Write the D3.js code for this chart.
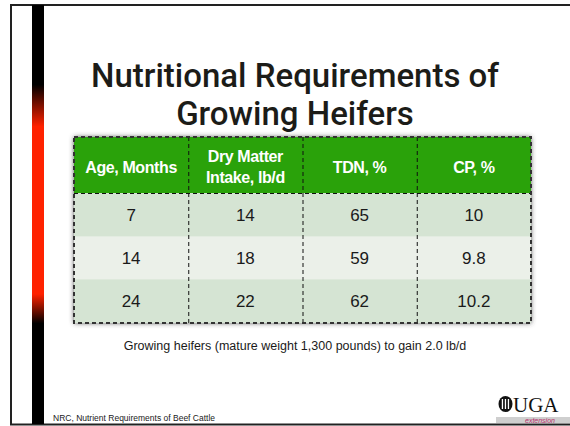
<!DOCTYPE html>
<html>
<head>
<meta charset="utf-8">
<script src="https://cdn.jsdelivr.net/npm/d3@7"></script>
<style>
  html, body { margin: 0; padding: 0; background: #fff; }
  svg { display: block; }
</style>
</head>
<body>
<script>
// table data
const headers = [["Age, Months"], ["Dry Matter", "Intake, lb/d"], ["TDN, %"], ["CP, %"]];
const ages = ["7", "14", "24"];
const dmIntake = ["14", "18", "22"];
const tdn = ["65", "59", "62"];
const cp = ["10", "9.8", "10.2"];
const rowFills = ["#d5e4d3", "#ebf0e9", "#d5e4d3"];

const width = 570, height = 426;
const svg = d3.select("body").append("svg")
  .attr("width", width)
  .attr("height", height);

const defs = svg.append("defs");

// left accent bar gradient (black -> red -> black)
const grad = defs.append("linearGradient")
  .attr("id", "bar-grad")
  .attr("x1", 0).attr("y1", 0).attr("x2", 0).attr("y2", 1);
[[0, "#000"], [0.19, "#000"], [0.29, "#ff2200"], [0.69, "#ff2200"], [0.76, "#000"], [1, "#000"]]
  .forEach(s => grad.append("stop").attr("offset", s[0]).attr("stop-color", s[1]));

// soft grey glow around the table
const glow = defs.append("filter").attr("id", "glow")
  .attr("x", "-5%").attr("y", "-10%").attr("width", "110%").attr("height", "120%");
glow.append("feDropShadow")
  .attr("dx", 0).attr("dy", 0)
  .attr("stdDeviation", 2.5)
  .attr("flood-color", "#444")
  .attr("flood-opacity", 0.95);

// slide frame
svg.append("path")
  .attr("d", "M570,5 H11 V424.5 H570")
  .attr("fill", "none")
  .attr("stroke", "#222")
  .attr("stroke-width", 2);

svg.append("rect")
  .attr("x", 32).attr("y", 5)
  .attr("width", 12).attr("height", 419)
  .attr("fill", "url(#bar-grad)");

// title
const title = svg.append("text")
  .attr("text-anchor", "middle")
  .attr("fill", "#1c1c18")
  .style("font-family", "Roboto, 'Liberation Sans', sans-serif")
  .style("font-weight", 500)
  .style("font-size", "33px");
title.append("tspan").attr("x", 295).attr("y", 87).text("Nutritional Requirements of");
title.append("tspan").attr("x", 295).attr("y", 125).text("Growing Heifers");

// table geometry
const tableLeft = 74, tableRight = 531;
const tableTop = 137, headerBottom = 193, tableBottom = 323;

const x = d3.scaleBand()
  .domain(d3.range(headers.length))
  .range([tableLeft, tableRight]);

const y = d3.scaleBand()
  .domain(d3.range(ages.length))
  .range([headerBottom, tableBottom]);

const rows = ages.map((a, i) => [a, dmIntake[i], tdn[i], cp[i]]);

const table = svg.append("g");

// background with glow
table.append("rect")
  .attr("x", tableLeft).attr("y", tableTop)
  .attr("width", tableRight - tableLeft)
  .attr("height", tableBottom - tableTop)
  .attr("fill", "#d5e4d3")
  .attr("filter", "url(#glow)");

table.append("rect")
  .attr("x", tableLeft).attr("y", tableTop)
  .attr("width", tableRight - tableLeft)
  .attr("height", headerBottom - tableTop)
  .attr("fill", "#2aa20a");

table.selectAll("rect.row")
  .data(rows)
  .join("rect")
  .attr("class", "row")
  .attr("x", tableLeft)
  .attr("y", (d, i) => y(i))
  .attr("width", tableRight - tableLeft)
  .attr("height", y.bandwidth())
  .attr("fill", (d, i) => rowFills[i]);

// header labels
const headerText = table.selectAll("text.head")
  .data(headers)
  .join("text")
  .attr("class", "head")
  .attr("text-anchor", "middle")
  .attr("fill", "#fff")
  .style("font-family", "'Liberation Sans', Arial, sans-serif")
  .style("font-weight", "bold")
  .style("font-size", "16px")
  .style("letter-spacing", "-0.4px");

headerText.each(function(lines, j) {
  const t = d3.select(this);
  const cx = x(j) + x.bandwidth() / 2;
  const base = lines.length === 1 ? 173 : 162;
  lines.forEach((line, k) => {
    t.append("tspan").attr("x", cx).attr("y", base + k * 21).text(line);
  });
});

// body cells
rows.forEach((row, i) => {
  table.selectAll("text.r" + i)
    .data(row)
    .join("text")
    .attr("class", "r" + i)
    .attr("x", (d, j) => x(j) + x.bandwidth() / 2)
    .attr("y", y(i) + y.bandwidth() / 2 + 6)
    .attr("text-anchor", "middle")
    .attr("fill", "#1a1a1a")
    .style("font-family", "'Liberation Sans', Arial, sans-serif")
    .style("font-size", "17px")
    .text(d => d);
});

// dashed grid lines
const dash = "4,3";
table.selectAll("line.v")
  .data(d3.range(1, headers.length))
  .join("line")
  .attr("class", "v")
  .attr("x1", j => x(j) + 0.5).attr("x2", j => x(j) + 0.5)
  .attr("y1", tableTop).attr("y2", tableBottom)
  .attr("stroke", "#111")
  .attr("stroke-dasharray", dash);

table.selectAll("line.h")
  .data([headerBottom])
  .join("line")
  .attr("class", "h")
  .attr("x1", tableLeft).attr("x2", tableRight)
  .attr("y1", d => d + 0.5).attr("y2", d => d + 0.5)
  .attr("stroke", "#111")
  .attr("stroke-dasharray", dash);

table.append("rect")
  .attr("x", tableLeft).attr("y", tableTop)
  .attr("width", tableRight - tableLeft)
  .attr("height", tableBottom - tableTop)
  .attr("fill", "none")
  .attr("stroke", "#333")
  .attr("stroke-width", 2)
  .attr("stroke-dasharray", dash);

// note under table
svg.append("text")
  .attr("x", 295).attr("y", 350)
  .attr("text-anchor", "middle")
  .attr("fill", "#1a1a1a")
  .style("font-family", "'Liberation Sans', Arial, sans-serif")
  .style("font-size", "12.5px")
  .text("Growing heifers (mature weight 1,300 pounds) to gain 2.0 lb/d");

// source footnote
svg.append("text")
  .attr("x", 53).attr("y", 421)
  .attr("fill", "#1a1a1a")
  .style("font-family", "'Liberation Sans', Arial, sans-serif")
  .style("font-size", "8.5px")
  .text("NRC, Nutrient Requirements of Beef Cattle");

// UGA extension logo
const logo = svg.append("g");
logo.append("rect")
  .attr("x", 496).attr("y", 417)
  .attr("width", 74).attr("height", 6)
  .attr("fill", "#cfcfcf");
logo.append("ellipse")
  .attr("cx", 505.5).attr("cy", 404).attr("rx", 7).attr("ry", 8)
  .attr("fill", "#111");
logo.selectAll("rect.col")
  .data([501.8, 504.8, 507.8])
  .join("rect")
  .attr("class", "col")
  .attr("x", d => d).attr("y", 399)
  .attr("width", 1.3).attr("height", 10)
  .attr("fill", "#fff");
logo.append("text")
  .attr("x", 513).attr("y", 411.5)
  .attr("fill", "#111")
  .style("font-family", "'Liberation Serif', 'Times New Roman', serif")
  .style("font-size", "21px")
  .text("UGA");
logo.append("text")
  .attr("x", 525).attr("y", 423)
  .attr("fill", "#b8306a")
  .style("font-family", "'Liberation Sans', Arial, sans-serif")
  .style("font-size", "7px")
  .style("font-style", "italic")
  .text("extension");
</script>
</body>
</html>
